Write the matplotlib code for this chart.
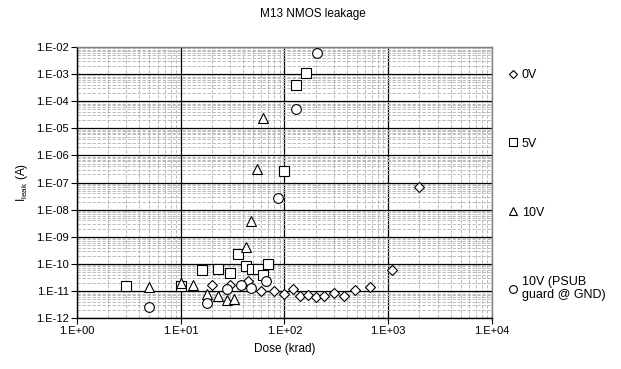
import math
import matplotlib
matplotlib.use("Agg")
import matplotlib.pyplot as plt
from matplotlib.ticker import LogLocator, FuncFormatter, NullFormatter

plt.rcParams['font.family'] = ['Liberation Sans', 'DejaVu Sans']

# 0V
dose_0v = [20, 30, 45, 60, 80, 100, 120, 140, 170, 200, 240, 300, 375, 480, 675, 1100, 2000]
leak_0v = [1.65e-11, 1.7e-11, 2.4e-11, 1.0e-11, 1.0e-11, 7.8e-12, 1.15e-11, 6.5e-12, 7.2e-12,
           6.1e-12, 6.5e-12, 8.1e-12, 6.8e-12, 1.07e-11, 1.45e-11, 5.9e-11, 7.0e-8]
# 5V
dose_5v = [3.0, 10, 16, 23, 30, 36, 42.5, 49, 56, 62, 70, 99, 130, 160]
leak_5v = [1.55e-11, 1.55e-11, 5.7e-11, 6.3e-11, 4.6e-11, 2.25e-10, 8.5e-11, 6.6e-11, 6.6e-11,
           3.8e-11, 1.0e-10, 2.65e-7, 3.9e-4, 1.12e-3]
# 10V
dose_10v = [5.0, 10, 13, 18, 23, 28, 33, 43, 48, 55, 62]
leak_10v = [1.35e-11, 1.9e-11, 1.6e-11, 7.5e-12, 6.6e-12, 4.7e-12, 5.0e-12, 4.1e-10, 3.8e-9,
            3.2e-7, 2.5e-5]
# 10V (PSUB guard @ GND)
dose_psub = [5.0, 18, 28, 38, 48, 67, 87, 128, 204]
leak_psub = [2.5e-12, 3.5e-12, 1.17e-11, 1.65e-11, 1.29e-11, 2.4e-11, 2.6e-8, 5.3e-5, 5.9e-3]

fig = plt.figure(figsize=(6.21, 3.69), dpi=100)
ax = fig.add_axes([0.124, 0.138, 0.668, 0.7345])

mk = dict(linestyle='none', markerfacecolor='white', markeredgecolor='black',
          markeredgewidth=0.8, clip_on=False, zorder=5)
ax.plot(dose_0v, leak_0v, marker='D', markersize=5.2, label='0V', **mk)
ax.plot(dose_5v, leak_5v, marker='s', markersize=6.5, label='5V', **mk)
ax.plot(dose_10v, leak_10v, marker='^', markersize=7, label='10V', **mk)
ax.plot(dose_psub, leak_psub, marker='o', markersize=7, label='10V (PSUB\nguard @ GND)', **mk)

ax.set_xscale('log')
ax.set_yscale('log')
ax.set_xlim(1, 1e4)
ax.set_ylim(1e-12, 1e-2)

ax.xaxis.set_major_locator(LogLocator(base=10, numticks=10))
ax.yaxis.set_major_locator(LogLocator(base=10, numticks=20))
ax.xaxis.set_minor_locator(LogLocator(base=10, subs=range(2, 10), numticks=20))
ax.yaxis.set_minor_locator(LogLocator(base=10, subs=range(2, 10), numticks=20))
fmt = FuncFormatter(lambda v, p: "1.E%+03d" % round(math.log10(v)))
ax.xaxis.set_major_formatter(fmt)
ax.yaxis.set_major_formatter(fmt)
ax.xaxis.set_minor_formatter(NullFormatter())
ax.yaxis.set_minor_formatter(NullFormatter())

ax.grid(which='minor', color='#b0b0b0', linestyle=(0, (4, 2)), linewidth=0.6)
ax.grid(which='major', color='black', linestyle='-', linewidth=0.9)
ax.set_axisbelow(True)
for s in ax.spines.values():
    s.set_color('#808080')
    s.set_linewidth(1.0)
ax.spines['left'].set_color('black')
ax.spines['bottom'].set_color('black')
ax.tick_params(which='major', direction='out', length=4, width=0.8, labelsize=8, pad=2)
ax.tick_params(which='minor', length=0)

ax.set_xlabel('Dose (krad)', fontsize=8.5, labelpad=5)
ax.set_ylabel('I$_{\\mathregular{leak}}$ (A)', fontsize=8.5, labelpad=4)
fig.text(0.504, 0.962, 'M13 NMOS leakage', ha='center', va='center', fontsize=8.5)

ax.legend(loc='upper left', bbox_to_anchor=(0.81, 0.83), bbox_transform=fig.transFigure,
          frameon=False, fontsize=9, handlelength=0.6, handletextpad=0.4,
          labelspacing=4.55, borderpad=0, markerscale=0.8)

fig.savefig('out.png', dpi=100)
